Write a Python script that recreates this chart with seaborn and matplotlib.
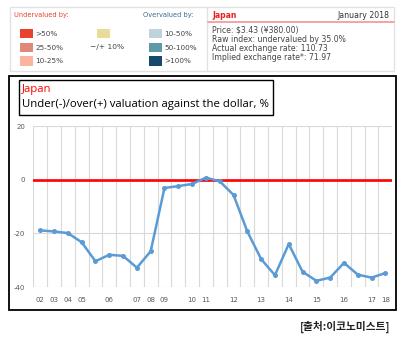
import numpy as np
import pandas as pd
import seaborn as sns
import matplotlib
matplotlib.use("Agg")
import matplotlib.pyplot as plt
from matplotlib.patches import Rectangle
from matplotlib.lines import Line2D

# ---------------- data ----------------
periods = ["02", "03", "04", "05", "", "06", "", "07", "08", "09", "", "10", "11",
           "", "12", "", "13", "", "14", "", "15", "", "16", "", "17", "18"]
valuation = [-18.9, -19.3, -19.9, -23.3, -30.4, -28.0, -28.4, -32.8, -26.7, -3.1,
             -2.4, -1.6, 0.75, -0.6, -5.7, -19.3, -29.6, -35.6, -24.0, -34.3,
             -37.7, -36.5, -31.0, -35.4, -36.5, -34.8]
y_ticks = [20, 0, -20, -40]

under_labels = [">50%", "25-50%", "10-25%"]
under_colors = ["#e8412c", "#e0887a", "#fbb49d"]
neutral_label = "\u2212/+ 10%"
neutral_color = "#e8dc98"
over_labels = ["10-50%", "50-100%", ">100%"]
over_colors = ["#bfd3de", "#5e99a8", "#154a6a"]

country = "Japan"
date_label = "January 2018"
info_lines = ["Price: $3.43 (\u00a5380.00)",
              "Raw index: undervalued by 35.0%",
              "Actual exchange rate: 110.73",
              "Implied exchange rate*: 71.97"]
subtitle = "Under(-)/over(+) valuation against the dollar, %"
source = "[출처:이코노미스트]"

# ---------------- figure ----------------
W, H = 404, 340
sns.set_style("white")
plt.rcParams["font.family"] = ["DejaVu Sans"]
fig = plt.figure(figsize=(W / 100, H / 100), dpi=100)
fig.patch.set_facecolor("white")


def fx(x):
    return x / W


def fy(y):
    return 1 - y / H


def rect(x0, y0, x1, y1, **kw):
    r = Rectangle((fx(x0), fy(y1)), (x1 - x0) / W, (y1 - y0) / H,
                  transform=fig.transFigure, **kw)
    fig.add_artist(r)


def hline(x0, x1, y, **kw):
    fig.add_artist(Line2D([fx(x0), fx(x1)], [fy(y), fy(y)], transform=fig.transFigure, **kw))


def vline(x, y0, y1, **kw):
    fig.add_artist(Line2D([fx(x), fx(x)], [fy(y0), fy(y1)], transform=fig.transFigure, **kw))


def text(x, y, s, **kw):
    fig.text(fx(x), fy(y), s, **kw)


# top legend / info panel
rect(10, 7, 394, 71, fill=False, edgecolor="#e2e2e2", lw=1.0)
vline(207, 7, 71, color="#e2e2e2", lw=1.0)
text(14, 15, "Undervalued by:", color="#e8412c", fontsize=4.8, va="center", ha="left")
text(143, 15, "Overvalued by:", color="#3b6a8c", fontsize=4.8, va="center", ha="left")
rows_y = [33.5, 47.5, 61]
for lab, col, yy in zip(under_labels, under_colors, rows_y):
    rect(20, yy - 4.5, 33, yy + 4.5, facecolor=col, edgecolor="none")
    text(35, yy, lab, fontsize=5.2, color="#444444", va="center", ha="left")
rect(97, 29, 110, 38, facecolor=neutral_color, edgecolor="none")
text(90, 47, neutral_label, fontsize=5.4, color="#444444", va="center", ha="left")
for lab, col, yy in zip(over_labels, over_colors, rows_y):
    rect(149, yy - 4.5, 162, yy + 4.5, facecolor=col, edgecolor="none")
    text(164, yy, lab, fontsize=5.2, color="#444444", va="center", ha="left")

text(212, 15, country, color="#e8201c", fontsize=5.6, fontweight="bold", va="center", ha="left")
text(389, 15, date_label, color="#333333", fontsize=5.6, va="center", ha="right")
hline(208, 394, 21.5, color="#f5a3a3", lw=1.4)
for i, line in enumerate(info_lines):
    text(212, 30.5 + i * 9, line, color="#444444", fontsize=5.6, va="center", ha="left")

# chart frame and title box
rect(9, 76, 396, 310, fill=False, edgecolor="black", lw=1.3)
rect(19, 80, 273, 115, fill=False, edgecolor="black", lw=1.0)
text(22, 90, country, color="#ff0000", fontsize=8.2, family="Open Sans", va="center", ha="left")
text(22, 105, subtitle, color="black", fontsize=8.2, family="Open Sans", va="center", ha="left")

# source
text(390, 327, source, fontsize=7.7, fontweight="bold", family=["Noto Sans CJK KR", "DejaVu Sans"],
     color="#222222", va="center", ha="right")

# ---------------- plot ----------------
ax = fig.add_axes([fx(33.3), fy(287), (392.3 - 33.3) / W, (287 - 126) / H])
xs = np.arange(len(valuation))
df = pd.DataFrame({"idx": xs, "val": valuation})
sns.lineplot(data=df, x="idx", y="val", ax=ax, color="#5b9bd5", lw=1.8,
             marker="o", markersize=3.6, markeredgewidth=0, zorder=4)
ax.axhline(0, color="#ff0000", lw=1.9, zorder=3)

ax.set_xlim(-0.5, len(valuation) - 0.5)
ax.set_ylim(-40, 20)
ax.set_xticks(xs)
ax.set_xticklabels(periods)
ax.set_xticks(np.arange(-0.5, len(valuation), 1.0), minor=True)
ax.set_yticks(y_ticks)
ax.set_yticklabels([str(v) for v in y_ticks])
ax.grid(False)
ax.grid(True, which="minor", axis="x", color="#d9d9d9", lw=0.8)
ax.grid(True, which="major", axis="y", color="#d9d9d9", lw=0.8)
ax.tick_params(which="both", length=0)
ax.tick_params(axis="x", labelsize=5, colors="#595959", pad=7)
ax.tick_params(axis="y", labelsize=5, colors="#595959", pad=6)
for s in ax.spines.values():
    s.set_visible(False)
ax.set_xlabel("")
ax.set_ylabel("")
ax.set_facecolor("white")

fig.savefig("out.png", dpi=100)
